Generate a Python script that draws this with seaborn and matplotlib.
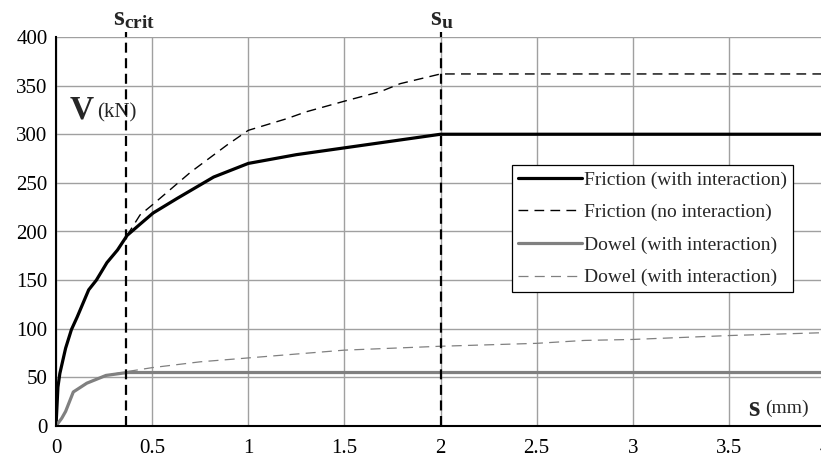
import matplotlib
matplotlib.use("Agg")
import matplotlib.pyplot as plt
import matplotlib.transforms as mtransforms
from matplotlib.ticker import FuncFormatter, MultipleLocator
from matplotlib.lines import Line2D
import seaborn as sns
import pandas as pd

# slip s (mm) and shear force V (kN)
fric_s = [0, 0.01, 0.02, 0.05, 0.08, 0.11, 0.17, 0.21, 0.265, 0.32, 0.37, 0.44,
          0.505, 0.63, 0.82, 1.0, 1.25, 1.5, 1.75, 2.0, 4.0]
fric_v = [0, 40, 54, 80, 99, 112, 140, 150, 168, 181, 196, 208,
          219, 234, 256, 270, 279, 286, 293, 300, 300]

fric_noint_s = [0, 0.01, 0.02, 0.05, 0.08, 0.11, 0.17, 0.21, 0.265, 0.32, 0.37, 0.437,
                0.505, 0.70, 0.89, 1.0, 1.2, 1.3, 1.5, 1.69, 1.79, 2.0, 4.0]
fric_noint_v = [0, 40, 54, 80, 99, 112, 140, 150, 168, 181, 196, 217,
                228, 261, 289, 304, 316, 323, 334, 344, 352, 362, 362]

dowel_s = [0, 0.03, 0.05, 0.09, 0.16, 0.26, 0.37, 4.0]
dowel_v = [0, 8, 15, 35, 44, 52, 55, 55]

dowel2_s = [0, 0.03, 0.05, 0.09, 0.16, 0.26, 0.37, 0.5, 0.75, 1.0, 1.25, 1.5,
            2.0, 2.5, 2.75, 3.0, 3.25, 3.5, 4.0]
dowel2_v = [0, 8, 15, 35, 44, 52, 56, 60, 66, 70, 74, 78,
            82, 85, 88, 89, 91, 93, 96]

s_crit = 0.365
s_u = 2.0

labels = ["Friction (with interaction)", "Friction (no interaction)",
          "Dowel (with interaction)", "Dowel (with interaction)"]

sns.set_style("white")
plt.rcParams["font.family"] = ["Liberation Serif", "DejaVu Serif"]
plt.rcParams["mathtext.fontset"] = "custom"
plt.rcParams["mathtext.rm"] = "Liberation Serif"
plt.rcParams["mathtext.bf"] = "Liberation Serif:bold"

fig = plt.figure(figsize=(8.21, 4.61), dpi=100)
ax = fig.add_axes([56 / 821, 35 / 461, 769 / 821, 389 / 461])

grey = "#808080"
series = [
    (fric_s, fric_v, dict(color="black", lw=2.3)),
    (fric_noint_s, fric_noint_v, dict(color="black", lw=1.0, dashes=(7, 4.5))),
    (dowel_s, dowel_v, dict(color=grey, lw=2.3)),
    (dowel2_s, dowel2_v, dict(color=grey, lw=0.9, dashes=(8, 5))),
]
handles = []
for (xs, ys, st), lab in zip(series, labels):
    df = pd.DataFrame({"s": xs, "V": ys})
    kw = dict(st)
    dashes = kw.pop("dashes", None)
    sns.lineplot(data=df, x="s", y="V", ax=ax, sort=False, estimator=None,
                 legend=False, **kw)
    line = ax.lines[-1]
    if dashes is not None:
        line.set_dashes(dashes)
    h = Line2D([], [], color=kw["color"], lw=kw["lw"])
    if dashes is not None:
        h.set_dashes(dashes)
    handles.append(h)

for xv in (s_crit, s_u):
    ax.axvline(xv, ymin=0, ymax=1.012, color="black", lw=1.6,
               dashes=(4.5, 2.5), clip_on=False, zorder=5)

ax.set_xlim(0, 4)
ax.set_ylim(0, 400)
ax.xaxis.set_major_locator(MultipleLocator(0.5))
ax.yaxis.set_major_locator(MultipleLocator(50))
ax.xaxis.set_major_formatter(FuncFormatter(lambda v, p: f"{v:g}"))
ax.grid(True, color="#a0a0a0", lw=1.0)
ax.set_axisbelow(True)
for side in ("top", "right"):
    ax.spines[side].set_visible(False)
for side in ("left", "bottom"):
    ax.spines[side].set_color("black")
    ax.spines[side].set_linewidth(1.5)
ax.tick_params(axis="both", direction="out", length=4, width=1.2,
               colors="black", labelsize=15, pad=2)
ax.tick_params(axis="x", pad=5)
ax.set_xlabel("")
ax.set_ylabel("")

trans = mtransforms.blended_transform_factory(ax.transData, ax.transAxes)
ax.text(0.295, 1.015, r"$\mathbf{s_{crit}}$", transform=trans, fontsize=20,
        ha="left", va="bottom")
ax.text(1.945, 1.015, r"$\mathbf{s_{u}}$", transform=trans, fontsize=20,
        ha="left", va="bottom")

ax.text(0.07, 325, "V", fontsize=24, fontweight="bold", ha="left", va="center")
ax.text(0.215, 322, "(kN)", fontsize=15, ha="left", va="center")
ax.text(3.6, 18, "s", fontsize=21, fontweight="bold", ha="left", va="center")
ax.text(3.69, 18, "(mm)", fontsize=14, ha="left", va="center")

leg = ax.legend(handles, labels, loc="upper left",
                bbox_to_anchor=(512 / 821, 1 - 165 / 461),
                bbox_transform=fig.transFigure, borderaxespad=0,
                fontsize=14, handlelength=3.3, handletextpad=0.1,
                labelspacing=0.77, borderpad=0.3, fancybox=False,
                framealpha=1, edgecolor="black")
leg.get_frame().set_linewidth(0.9)

fig.savefig("out.png", dpi=100)
